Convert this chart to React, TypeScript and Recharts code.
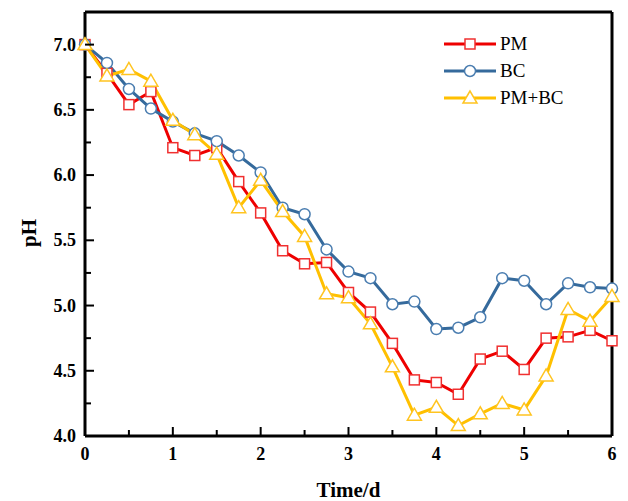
import { LineChart, Line, XAxis, YAxis, Legend } from "recharts";

const times = [0, 0.25, 0.5, 0.75, 1, 1.25, 1.5, 1.75, 2, 2.25, 2.5, 2.75, 3, 3.25, 3.5, 3.75, 4, 4.25, 4.5, 4.75, 5, 5.25, 5.5, 5.75, 6];

const pmValues = [7.0, 6.78, 6.54, 6.64, 6.21, 6.15, 6.21, 5.95, 5.71, 5.42, 5.32, 5.33, 5.1, 4.95, 4.71, 4.43, 4.41, 4.32, 4.59, 4.65, 4.51, 4.75, 4.76, 4.81, 4.73];
const bcValues = [7.0, 6.86, 6.66, 6.51, 6.41, 6.32, 6.26, 6.15, 6.02, 5.75, 5.7, 5.43, 5.26, 5.21, 5.01, 5.03, 4.82, 4.83, 4.91, 5.21, 5.19, 5.01, 5.17, 5.14, 5.13];
const pmBcValues = [7.0, 6.76, 6.81, 6.72, 6.42, 6.31, 6.16, 5.75, 5.96, 5.72, 5.53, 5.09, 5.06, 4.86, 4.53, 4.16, 4.22, 4.08, 4.17, 4.25, 4.2, 4.46, 4.97, 4.88, 5.07];

const xTicks = [0, 0.5, 1, 1.5, 2, 2.5, 3, 3.5, 4, 4.5, 5, 5.5, 6];
const yTicks = [4, 4.25, 4.5, 4.75, 5, 5.25, 5.5, 5.75, 6, 6.25, 6.5, 6.75, 7];

const data = times.map((t, i) => ({
  t,
  pm: pmValues[i],
  bc: bcValues[i],
  pmbc: pmBcValues[i],
}));

const FONT = '"Liberation Serif", "Times New Roman", serif';
const RED = "#ee0000";
const BLUE = "#356a9c";
const YELLOW = "#ffc000";

function XTick(props: any) {
  const { x, y, payload } = props;
  const v = payload.value;
  const major = Number.isInteger(v);
  const ay = y - 8;
  return (
    <g>
      <line x1={x} x2={x} y1={ay} y2={ay - (major ? 9 : 6)} stroke="#000" strokeWidth={2} />
      {major && (
        <text x={x} y={y + 16} textAnchor="middle" fontFamily={FONT} fontWeight="bold" fontSize={18} fill="#000">
          {v}
        </text>
      )}
    </g>
  );
}

function YTick(props: any) {
  const { x, y, payload } = props;
  const v = payload.value;
  const major = Math.abs(v * 2 - Math.round(v * 2)) < 1e-6;
  const ax = x + 9;
  return (
    <g>
      <line x1={ax} x2={ax + (major ? 9 : 6)} y1={y} y2={y} stroke="#000" strokeWidth={2} />
      {major && (
        <text x={x} y={y + 6} textAnchor="end" fontFamily={FONT} fontWeight="bold" fontSize={18} fill="#000">
          {v.toFixed(1)}
        </text>
      )}
    </g>
  );
}

function PhLabel(props: any) {
  const { viewBox } = props;
  const cy = viewBox.y + viewBox.height / 2 + 9;
  return (
    <text
      x={29}
      y={cy}
      transform={`rotate(-90, 29, ${cy})`}
      textAnchor="middle"
      dominantBaseline="central"
      fontFamily={FONT}
      fontWeight="bold"
      fontSize={21}
      fill="#000"
    >
      pH
    </text>
  );
}

function Square(props: any) {
  const { cx, cy, index } = props;
  return <rect key={`s${index}`} x={cx - 5} y={cy - 5} width={10} height={10} fill="#fff" stroke="#f03030" strokeWidth={1.5} />;
}

function Circle(props: any) {
  const { cx, cy, index } = props;
  return <circle key={`c${index}`} cx={cx} cy={cy} r={5.5} fill="#fff" stroke="#4a7db0" strokeWidth={1.5} />;
}

function Triangle(props: any) {
  const { cx, cy, index } = props;
  const p = `${cx},${cy - 7} ${cx - 7},${cy + 5} ${cx + 7},${cy + 5}`;
  return <polygon key={`t${index}`} points={p} fill="#fff" stroke="#ffc420" strokeWidth={1.5} />;
}

const legendItems = [
  { name: "PM", color: RED, marker: "square" },
  { name: "BC", color: BLUE, marker: "circle" },
  { name: "PM+BC", color: YELLOW, marker: "triangle" },
];

function renderLegend() {
  return (
    <div style={{ fontFamily: FONT, fontSize: 19, color: "#000" }}>
      {legendItems.map((item) => (
        <div key={item.name} style={{ display: "flex", alignItems: "center", height: 27 }}>
          <svg width={56} height={20} style={{ display: "block" }}>
            <line x1={0} x2={52} y1={10} y2={10} stroke={item.color} strokeWidth={3} />
            {item.marker === "square" && <rect x={21} y={5} width={10} height={10} fill="#fff" stroke="#f03030" strokeWidth={1.5} />}
            {item.marker === "circle" && <circle cx={26} cy={10} r={5.5} fill="#fff" stroke="#4a7db0" strokeWidth={1.5} />}
            {item.marker === "triangle" && <polygon points="26,3 19,15 33,15" fill="#fff" stroke="#ffc420" strokeWidth={1.5} />}
          </svg>
          <span style={{ lineHeight: "20px" }}>{item.name}</span>
        </div>
      ))}
    </div>
  );
}

export default function App() {
  return (
    <div style={{ position: "absolute", left: 0, top: 0, width: 628, height: 501, background: "#fff" }}>
      <LineChart width={628} height={501} data={data} margin={{ top: 11, right: 15, bottom: 0, left: 0 }}>
        <XAxis
          dataKey="t"
          type="number"
          domain={[0, 6]}
          ticks={xTicks}
          interval={0}
          height={65}
          tickSize={0}
          tickMargin={8}
          tickLine={false}
          tick={<XTick />}
          axisLine={{ stroke: "#000", strokeWidth: 3 }}
          label={{
            value: "Time/d",
            position: "insideBottom",
            offset: 4,
            style: { fontFamily: FONT, fontWeight: "bold", fontSize: 21, fill: "#000" },
          }}
        />
        <XAxis
          xAxisId="top"
          dataKey="t"
          type="number"
          domain={[0, 6]}
          orientation="top"
          height={1}
          tick={false}
          tickLine={false}
          axisLine={{ stroke: "#000", strokeWidth: 3 }}
        />
        <YAxis
          type="number"
          domain={[4, 7.25]}
          ticks={yTicks}
          interval={0}
          width={85}
          tickSize={0}
          tickMargin={9}
          tickLine={false}
          tick={<YTick />}
          axisLine={{ stroke: "#000", strokeWidth: 3 }}
          label={<PhLabel />}
        />
        <YAxis
          yAxisId="r"
          orientation="right"
          type="number"
          domain={[4, 7.25]}
          ticks={yTicks}
          interval={0}
          width={1}
          tick={false}
          tickSize={2}
          tickLine={{ stroke: "#000", strokeWidth: 2 }}
          axisLine={{ stroke: "#000", strokeWidth: 3 }}
        />
        <Legend layout="vertical" align="center" verticalAlign="middle" content={renderLegend} wrapperStyle={{ left: 444, top: 30, width: 170 }} />
        <Line dataKey="pm" stroke={RED} strokeWidth={3} dot={Square} isAnimationActive={false} />
        <Line dataKey="bc" stroke={BLUE} strokeWidth={3} dot={Circle} isAnimationActive={false} />
        <Line dataKey="pmbc" stroke={YELLOW} strokeWidth={3} dot={Triangle} isAnimationActive={false} />
      </LineChart>
    </div>
  );
}
